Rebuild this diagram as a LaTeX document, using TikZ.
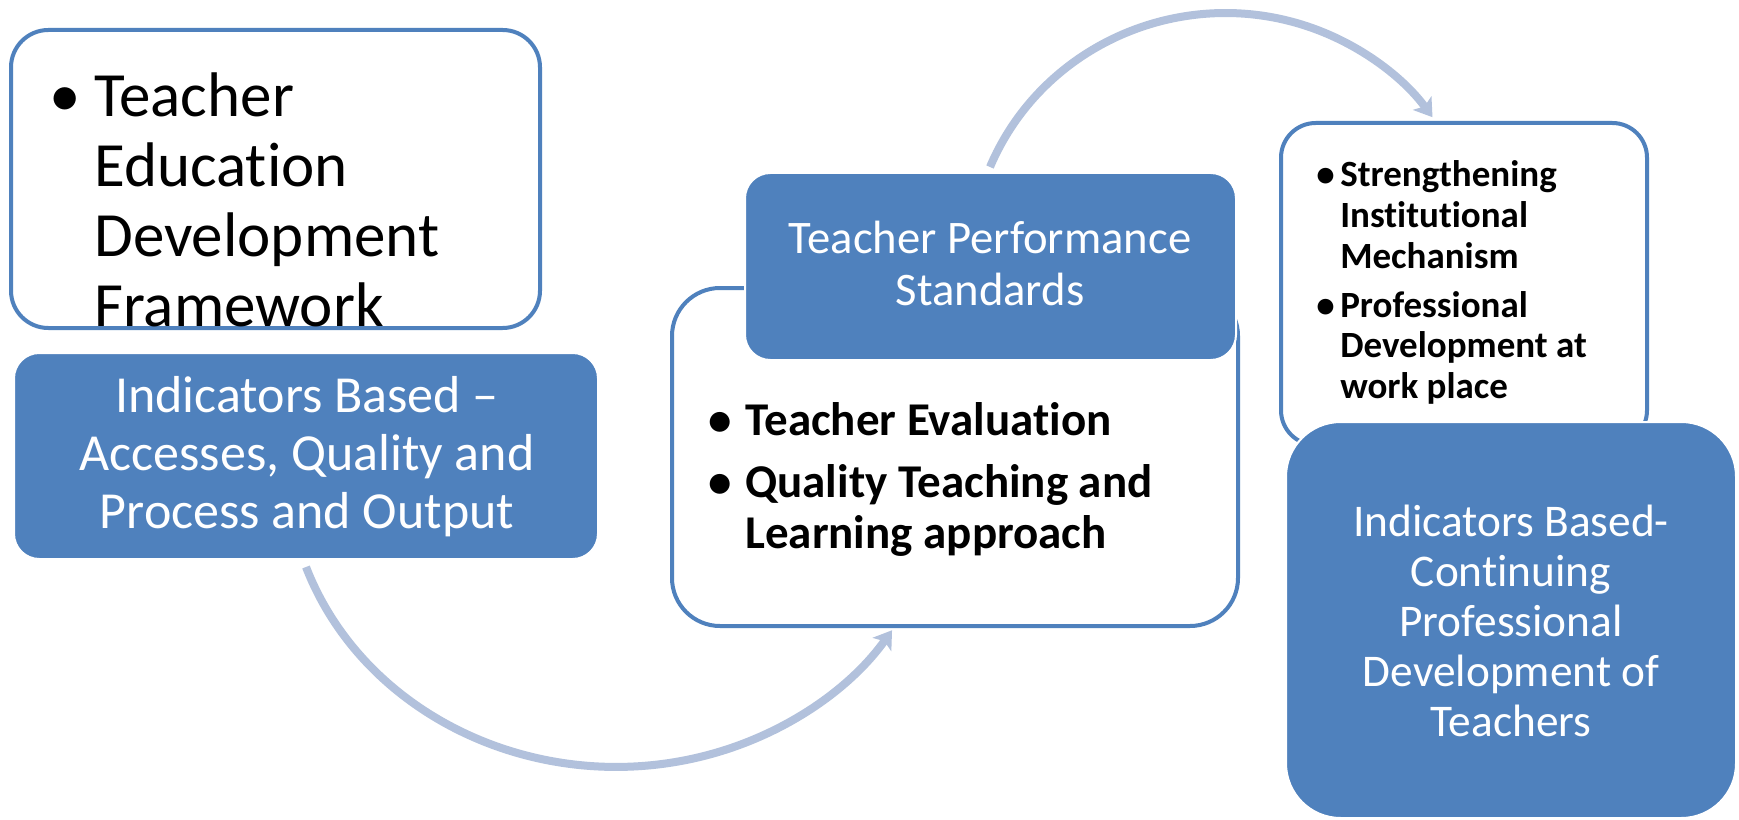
\documentclass[tikz,border=0pt]{standalone}
\usepackage{fontspec}
\setmainfont{Carlito}[Ligatures=NoCommon]
\usetikzlibrary{fit,arrows.meta}

\definecolor{boxblue}{HTML}{4F81BD}
\definecolor{flowblue}{RGB}{178,193,220}

% hanging bullet placed in front of the first line of a list item
\newcommand\hangbullet[1]{\llap{\makebox[#1][l]{\textbullet}}}
\newcommand\fsz[2]{\fontsize{#1}{#2}\selectfont}

\begin{document}
\begin{tikzpicture}[x=0.75pt,y=-0.75pt,
  outlinebox/.style={draw=boxblue, line width=3pt, fill=white, rounded corners=#1, inner sep=0pt},
  filledbox/.style={draw=white, line width=1.5pt, fill=boxblue, rounded corners=#1, inner sep=0pt},
  txt/.style={inner sep=0pt, anchor=base},
  flow/.style={draw=flowblue, line width=6pt, -{Stealth[length=13pt, width=17pt, inset=3pt]}}]

\useasboundingbox[fill=white] (0,0) rectangle (1739,820);

% left column
\node[outlinebox=28pt, fit={(11,30) (540,328)}] (frame) {};
\node[txt, anchor=base west, font=\fsz{47.25pt}{52.5pt}] (frametext) at (94,117)
  {\begin{tabular}[t]{@{}l@{}}\hangbullet{33.75pt}Teacher\\Education\\Development\\Framework\end{tabular}};

\node[filledbox=19pt, fit={(14,353) (598,559)}] (access) {};
\node[txt, text=white, font=\fsz{39pt}{43.5pt}] (accesstext) at (307,412)
  {\begin{tabular}[t]{@{}c@{}}Indicators Based –\\Accesses, Quality and\\Process and Output\end{tabular}};

% lower arc from the left column to the middle block
\coordinate (arcAstart) at (306,567);
\draw[flow] (arcAstart) arc[start angle=160.5, end angle=33, x radius=329, y radius=300];

% middle block
\node[outlinebox=36pt, fit={(672,288) (1238,626)}] (evaluation) {};
\node[txt, anchor=base west, font=\bfseries\fsz{35.25pt}{38.6pt}] (evaluationtext) at (745,435)
  {\begin{tabular}[t]{@{}l@{}}\hangbullet{27.75pt}Teacher Evaluation\\[8pt]\hangbullet{27.75pt}Quality Teaching and\\Learning approach\end{tabular}};

\node[filledbox=19pt, fit={(745,173) (1236,360)}] (standards) {};
\node[txt, text=white, font=\fsz{35pt}{39pt}] (standardstext) at (990,253)
  {\begin{tabular}[t]{@{}c@{}}Teacher Performance\\Standards\end{tabular}};

% upper arc from the middle block to the right column
\coordinate (arcBstart) at (990,167);
\draw[flow] (arcBstart) arc[start angle=202.6, end angle=324.3, x radius=255, y radius=250];

% right column
\node[outlinebox=26pt, fit={(1281,123) (1647,445)}] (mechanism) {};
\node[txt, anchor=base west, font=\bfseries\fsz{27.75pt}{30.4pt}] (mechanismtext) at (1340,187)
  {\begin{tabular}[t]{@{}l@{}}\hangbullet{18pt}Strengthening\\Institutional\\Mechanism\\[6.4pt]\hangbullet{18pt}Professional\\Development at\\work place\end{tabular}};

\node[filledbox=41pt, fit={(1286,422) (1736,818)}] (cpd) {};
\node[txt, text=white, font=\fsz{34pt}{37.5pt}] (cpdtext) at (1511,536)
  {\begin{tabular}[t]{@{}c@{}}Indicators Based-\\Continuing\\Professional\\Development of\\Teachers\end{tabular}};

\end{tikzpicture}
\end{document}
